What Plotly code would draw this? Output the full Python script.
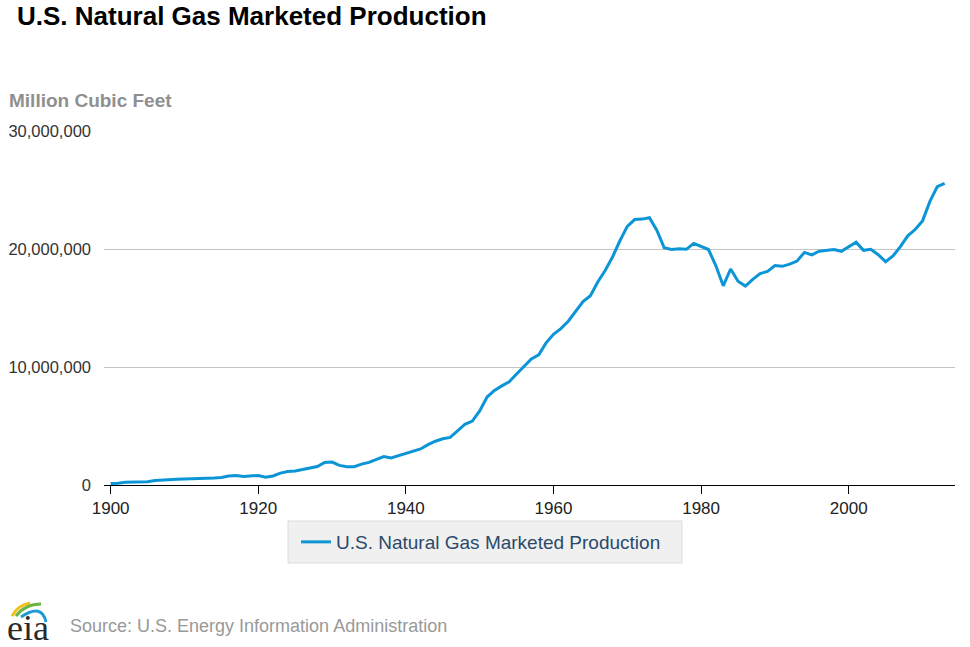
import plotly.graph_objects as go

years = list(range(1900, 2014))

production = [
    128000, 150000, 237000, 256000, 257000, 286000, 389000, 407000, 402000, 481000,
    509000, 513000, 562000, 582000, 592000, 629000, 753000, 795000, 721000, 746000,
    812000, 662000, 763000, 1007000, 1141000, 1188000, 1313000, 1445000, 1568000, 1917000,
    1943000, 1659000, 1555000, 1557000, 1771000, 1917000, 2168000, 2407000, 2296000, 2477000,
    2660000, 2812000, 3053000, 3415000, 3711000, 3919000, 4031000, 4582000, 5148000, 5420000,
    6282000, 7457000, 8013000, 8397000, 8743000, 9405000, 10082000, 10680000, 11030000, 12046000,
    12771000, 13254000, 13877000, 14747000, 15547000, 16040000, 17207000, 18171000, 19322000, 20698000,
    21921000, 22493000, 22532000, 22648000, 21601000, 20109000, 19952000, 20025000, 19974000, 20471000,
    20180000, 19956000, 18582000, 16884000, 18304000, 17270000, 16859000, 17433000, 17918000, 18095000,
    18594000, 18532000, 18712000, 18982000, 19710000, 19506000, 19812000, 19866000, 19961000, 19805000,
    20198000, 20570000, 19885000, 19974000, 19517000, 18927000, 19410000, 20196000, 21112000, 21648000,
    22382000, 24036000, 25283000, 25562000,
]

y_ticks = [0, 10000000, 20000000, 30000000]
y_tick_labels = ["0", "10,000,000", "20,000,000", "30,000,000"]
x_ticks = [1900, 1920, 1940, 1960, 1980, 2000]

title_text = "U.S. Natural Gas Marketed Production"
series_name = "U.S. Natural Gas Marketed Production"
unit_text = "Million Cubic Feet"
source_text = "Source: U.S. Energy Information Administration"

W, H = 970, 647
ML, MR, MT, MB = 104, 15, 131, 162
PW, PH = W - ML - MR, H - MT - MB


def px(xp):
    return (xp - ML) / PW


def py(yp):
    return (H - MB - yp) / PH


fig = go.Figure()
fig.add_trace(go.Scatter(
    x=years, y=production, mode="lines", name=series_name,
    line=dict(color="#0c95d6", width=3),
))

font = "Liberation Sans, Arial, sans-serif"

fig.update_layout(
    width=W, height=H,
    margin=dict(l=ML, r=MR, t=MT, b=MB, autoexpand=False),
    paper_bgcolor="white", plot_bgcolor="white",
    showlegend=True,
    legend=dict(
        orientation="h", xref="container", yref="container",
        x=481 / W, xanchor="center", y=1 - 542 / H, yanchor="middle",
        bgcolor="rgba(0,0,0,0)", borderwidth=0,
        font=dict(family=font, size=19, color="#2b4a6b"),
        itemwidth=30,
    ),
    xaxis=dict(
        range=[1899.1, 2014.4], tickvals=x_ticks, automargin=False,
        showgrid=False, zeroline=False,
        showline=True, linecolor="#000000", linewidth=1,
        ticks="outside", ticklen=8, tickcolor="#000000",
        tickfont=dict(family=font, size=17, color="#222222"),
    ),
    yaxis=dict(
        range=[0, 30000000], tickvals=y_ticks, ticktext=y_tick_labels,
        automargin=False,
        showgrid=True, gridcolor="#c4c4c4", gridwidth=1,
        zeroline=False, showline=False,
        ticks="", ticklabelstandoff=12,
        tickfont=dict(family=font, size=16.5, color="#333333"),
    ),
)

annotations = [
    dict(text="<b>" + title_text + "</b>", xref="paper", yref="paper",
         x=px(15), y=py(16), xanchor="left", yanchor="middle", showarrow=False,
         font=dict(family=font, size=26, color="#000000")),
    dict(text="<b>" + unit_text + "</b>", xref="paper", yref="paper",
         x=px(7), y=py(100), xanchor="left", yanchor="middle", showarrow=False,
         font=dict(family=font, size=19, color="#8f8f8f")),
    dict(text=source_text, xref="paper", yref="paper",
         x=px(68), y=py(626), xanchor="left", yanchor="middle", showarrow=False,
         font=dict(family=font, size=18, color="#999999")),
    dict(text="eia", xref="paper", yref="paper",
         x=px(28), y=py(628), xanchor="center", yanchor="middle", showarrow=False,
         font=dict(family="Liberation Serif, DejaVu Serif, serif", size=36, color="#2a2a2a")),
]
fig.update_layout(annotations=annotations)

# legend background box
fig.add_shape(type="rect", xref="paper", yref="paper",
              x0=px(288), x1=px(682), y0=py(563), y1=py(521),
              fillcolor="#f0f0f0", line=dict(color="#dcdcdc", width=1), layer="below")


def arc_path(points):
    pts = [(px(a), py(b)) for a, b in points]
    d = "M {} {}".format(*pts[0])
    d += " Q {} {} {} {}".format(pts[1][0], pts[1][1], pts[2][0], pts[2][1])
    return d


logo_arcs = [
    ([(12, 616), (18, 605), (30, 603)], "#f2c21b"),
    ([(16, 616), (25, 604), (41, 604)], "#6ab546"),
    ([(21, 617), (42, 603), (46, 622)], "#1d9ad6"),
]
for pts, col in logo_arcs:
    fig.add_shape(type="path", path=arc_path(pts), xref="paper", yref="paper",
                  line=dict(color=col, width=3))

fig.write_html("out.html", config={"displayModeBar": False},
               post_script="document.body.style.margin='0';document.body.style.padding='0';")
